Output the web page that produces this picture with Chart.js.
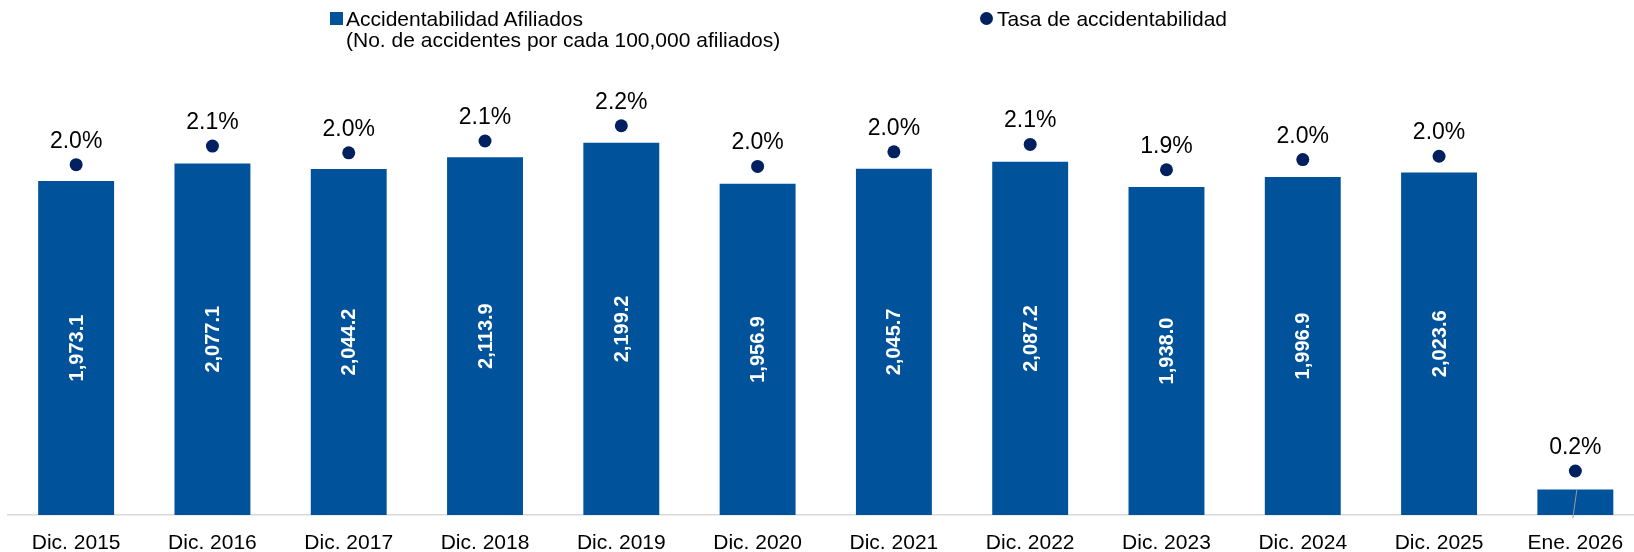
<!DOCTYPE html>
<html>
<head>
<meta charset="utf-8">
<script src="https://cdn.jsdelivr.net/npm/chart.js@4.4.1/dist/chart.umd.min.js"></script>
<style>
  html, body { margin: 0; padding: 0; background: #fff; overflow: hidden; width: 1634px; height: 552px; }
  #wrap { position: relative; width: 1650px; height: 552px; }
  #c { position: absolute; left: 0; top: 0; width: 1650px; height: 552px; }
  .lg { position: absolute; font-family: "Liberation Sans", Arial, sans-serif; font-size: 21px; line-height: 21px; color: #000; white-space: nowrap; }
  .sq { position: absolute; width: 13px; height: 13px; background: #00529B; }
  .dot { position: absolute; width: 13px; height: 13px; border-radius: 50%; background: #002060; }
</style>
</head>
<body>
<div id="wrap">
  <canvas id="c" width="1650" height="552"></canvas>
  <div class="sq" style="left:330px; top:12px;"></div>
  <div class="lg" style="left:346px; top:8px;">Accidentabilidad Afiliados<br>(No. de accidentes por cada 100,000 afiliados)</div>
  <div class="dot" style="left:980px; top:12px;"></div>
  <div class="lg" style="left:997px; top:8px;">Tasa de accidentabilidad</div>
</div>
<script>
const categories = ["Dic. 2015", "Dic. 2016", "Dic. 2017", "Dic. 2018", "Dic. 2019", "Dic. 2020", "Dic. 2021", "Dic. 2022", "Dic. 2023", "Dic. 2024", "Dic. 2025", "Ene. 2026"];
const accidentabilidad = [1973.1, 2077.1, 2044.2, 2113.9, 2199.2, 1956.9, 2045.7, 2087.2, 1938.0, 1996.9, 2023.6, 150];
const tasa = [1.97, 2.08, 2.04, 2.11, 2.20, 1.96, 2.046, 2.09, 1.94, 2.00, 2.02, 0.16];

const FONT = '"Liberation Sans", Arial, sans-serif';

const labelPlugin = {
  id: 'labelPlugin',
  afterDatasetsDraw(chart) {
    const ctx = chart.ctx;
    const base = chart.scales.y.getPixelForValue(0);
    const barMeta = chart.getDatasetMeta(0);
    barMeta.data.forEach((bar, i) => {
      const h = base - bar.y;
      if (h > 80) {
        ctx.save();
        ctx.translate(bar.x, (bar.y + base) / 2);
        ctx.rotate(-Math.PI / 2);
        ctx.fillStyle = '#ffffff';
        ctx.font = 'bold 20px ' + FONT;
        ctx.textAlign = 'center';
        ctx.textBaseline = 'middle';
        ctx.fillText(accidentabilidad[i].toLocaleString('en-US', {minimumFractionDigits: 1, maximumFractionDigits: 1}), 0, 1);
        ctx.restore();
      } else {
        ctx.save();
        ctx.strokeStyle = '#9a9a9a';
        ctx.lineWidth = 1;
        ctx.beginPath();
        ctx.moveTo(bar.x + 1.5, bar.y);
        ctx.lineTo(bar.x - 2.5, base + 3);
        ctx.stroke();
        ctx.restore();
      }
    });
    const dotMeta = chart.getDatasetMeta(1);
    dotMeta.data.forEach((pt, i) => {
      ctx.save();
      ctx.fillStyle = '#000000';
      ctx.font = '23px ' + FONT;
      ctx.textAlign = 'center';
      ctx.textBaseline = 'alphabetic';
      ctx.fillText(tasa[i].toFixed(1) + '%', pt.x, pt.y - 17);
      ctx.restore();
    });
  }
};

new Chart(document.getElementById('c'), {
  data: {
    labels: categories,
    datasets: [
      {
        type: 'bar',
        label: 'Accidentabilidad Afiliados',
        data: accidentabilidad,
        backgroundColor: '#00529B',
        borderWidth: 0,
        yAxisID: 'y',
        categoryPercentage: 1.0,
        barPercentage: 0.557,
        order: 2
      },
      {
        type: 'line',
        label: 'Tasa de accidentabilidad',
        data: tasa,
        showLine: false,
        pointRadius: 6.5,
        pointHoverRadius: 6.5,
        pointBackgroundColor: '#002060',
        pointBorderWidth: 0,
        borderColor: '#002060',
        yAxisID: 'y1',
        order: 1
      }
    ]
  },
  options: {
    responsive: false,
    animation: false,
    layout: { padding: { top: 75, left: 8, right: 5, bottom: 0 } },
    plugins: { legend: { display: false }, tooltip: { enabled: false } },
    scales: {
      x: {
        grid: { display: true, drawOnChartArea: false, drawTicks: false },
        border: { display: true, color: '#d9d9d9', width: 1.5 },
        ticks: { color: '#000', font: { family: FONT, size: 21 }, padding: 16, maxRotation: 0, autoSkip: false },
        afterFit(scale) { scale.height = 37; }
      },
      y: { display: false, min: 0, max: 2600 },
      y1: { display: false, min: -0.1, max: 2.5 }
    }
  },
  plugins: [labelPlugin]
});
</script>
</body>
</html>
